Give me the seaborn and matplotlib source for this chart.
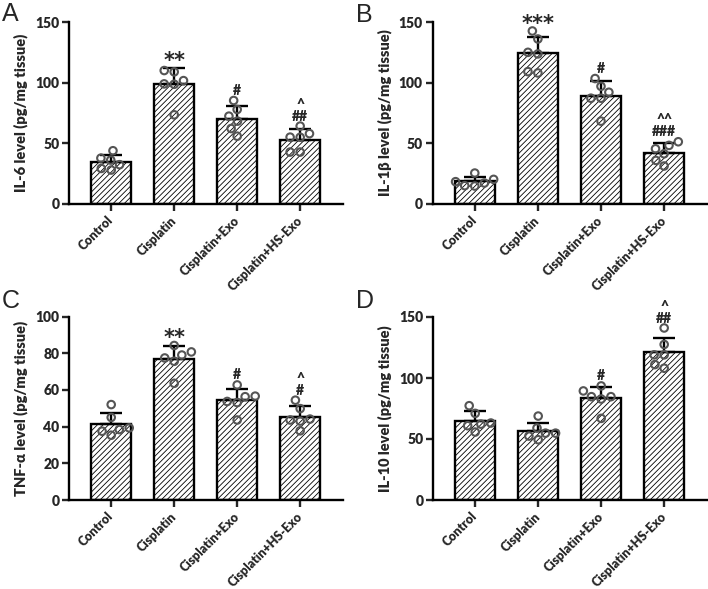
import numpy as np
import pandas as pd
import matplotlib
matplotlib.use("Agg")
import matplotlib.pyplot as plt
import seaborn as sns

groups = ["Control", "Cisplatin", "Cisplatin+Exo", "Cisplatin+HS-Exo"]

il6 = [
    [43.9, 37.8, 36.2, 32.4, 28.0, 29.3],
    [110.0, 108.9, 101.7, 98.7, 99.0, 73.5],
    [85.3, 77.9, 72.4, 68.3, 62.2, 55.9],
    [64.2, 58.0, 55.1, 55.0, 42.8, 42.8],
]
il1b = [
    [25.5, 20.3, 18.4, 17.3, 15.1, 14.8],
    [142.6, 136.0, 125.0, 123.7, 109.1, 108.0],
    [103.4, 97.0, 92.1, 87.2, 87.2, 68.3],
    [51.3, 48.3, 45.5, 41.4, 35.9, 31.3],
]
tnf = [
    [52.0, 45.0, 39.3, 38.4, 37.5, 35.3],
    [84.2, 80.7, 79.0, 77.4, 75.6, 63.6],
    [62.7, 56.6, 56.3, 53.7, 53.1, 43.6],
    [54.4, 49.8, 44.1, 43.6, 43.0, 37.7],
]
il10 = [
    [77.3, 71.0, 63.1, 62.2, 60.9, 55.7],
    [68.8, 59.0, 54.8, 54.8, 52.4, 49.4],
    [93.5, 89.4, 84.7, 84.7, 82.8, 66.9],
    [141.0, 127.5, 119.0, 119.0, 111.0, 108.0],
]

ann_il6 = ["", "**", "#", "^\n##"]
ann_il1b = ["", "***", "#", "^^\n###"]
ann_tnf = ["", "**", "#", "^\n#"]
ann_il10 = ["", "", "#", "^\n##"]

ylabels = ["IL-6 level (pg/mg tissue)", "IL-1β level (pg/mg tissue)",
           "TNF-α level (pg/mg tissue)", "IL-10 level (pg/mg tissue)"]
yticks_list = [[0, 50, 100, 150], [0, 50, 100, 150], [0, 20, 40, 60, 80, 100], [0, 50, 100, 150]]
panel_letters = ["A", "B", "C", "D"]

sns.set_theme(style="ticks")
plt.rcParams["font.family"] = ["Lato", "DejaVu Sans"]
plt.rcParams["hatch.linewidth"] = 0.6

fig = plt.figure(figsize=(7.08, 5.89), dpi=100)
W, H = 708, 589
positions = [
    (69, 22, 343, 204),
    (432.5, 22, 707, 204),
    (69, 316.5, 343, 500),
    (433, 317, 707, 500),
]
letter_pos = [(2, 2), (356, 3), (2, 289), (356, 289)]

datasets = [il6, il1b, tnf, il10]
anns = [ann_il6, ann_il1b, ann_tnf, ann_il10]
FW = "heavy"

for k in range(4):
    x0, y0, x1, y1 = positions[k]
    ax = fig.add_axes([x0 / W, 1 - y1 / H, (x1 - x0) / W, (y1 - y0) / H])
    vals = datasets[k]
    df = pd.DataFrame({
        "group": np.repeat(groups, [len(v) for v in vals]),
        "value": np.concatenate([np.array(v, dtype=float) for v in vals]),
    })
    sns.barplot(data=df, x="group", y="value", order=groups, errorbar=None,
                color="white", edgecolor="black", linewidth=1.7, width=0.63,
                ax=ax, zorder=2)
    for p in ax.patches:
        p.set_hatch("//////")
        p.set_facecolor("white")
    stats = df.groupby("group", sort=False)["value"].agg(["mean", "std", "max"]).reindex(groups)
    xs = np.arange(len(groups))
    ax.errorbar(xs, stats["mean"], yerr=[np.zeros(len(xs)), stats["std"]], fmt="none",
                ecolor="black", elinewidth=1.7, capsize=8, capthick=1.7, zorder=3)
    before = len(ax.collections)
    sns.swarmplot(data=df, x="group", y="value", order=groups, size=5.4,
                  color="#666666", ax=ax, zorder=4)
    for c in ax.collections[before:]:
        c.set_facecolor("none")
        c.set_edgecolor("#555555")
        c.set_linewidth(1.5)
    top = np.maximum(stats["mean"] + stats["std"], stats["max"])
    for i, t in enumerate(anns[k]):
        if not t:
            continue
        if "*" in t:
            ax.annotate(t, xy=(i, top.iloc[i]), xytext=(0, -2), textcoords="offset points",
                        ha="center", va="bottom", fontsize=15, fontweight="bold",
                        family=["DejaVu Sans"], zorder=5)
        else:
            ax.annotate(t, xy=(i, top.iloc[i]), xytext=(0, 2.5), textcoords="offset points",
                        ha="center", va="bottom", fontsize=10, fontweight=FW,
                        linespacing=0.9, zorder=5)
    yt = yticks_list[k]
    ax.set_ylim(0, yt[-1])
    ax.set_yticks(yt)
    ax.set_xlim(-0.67, 3.68)
    ax.set_xlabel("")
    ax.set_ylabel(ylabels[k], fontsize=10.5, fontweight=FW, labelpad=5)
    ax.tick_params(axis="y", labelsize=10, width=1.7, length=5, pad=2)
    ax.tick_params(axis="x", labelsize=9, width=1.7, length=5, pad=2)
    for lab in ax.get_yticklabels():
        lab.set_fontweight(FW)
    ax.set_xticks(xs)
    ax.set_xticklabels(groups, rotation=45, ha="right", va="center",
                       rotation_mode="anchor", fontweight=FW)
    for lab in ax.get_xticklabels():
        lab.set_y(-0.025)
    for s in ["top", "right"]:
        ax.spines[s].set_visible(False)
    for s in ["left", "bottom"]:
        ax.spines[s].set_linewidth(1.7)
        ax.spines[s].set_color("black")
    ax.set_facecolor("none")
    lx, ly = letter_pos[k]
    fig.text(lx / W, 1 - ly / H, panel_letters[k], fontsize=18,
             family=["Liberation Sans", "DejaVu Sans"], va="top", ha="left")

fig.savefig("out.png", dpi=100, facecolor="white")
